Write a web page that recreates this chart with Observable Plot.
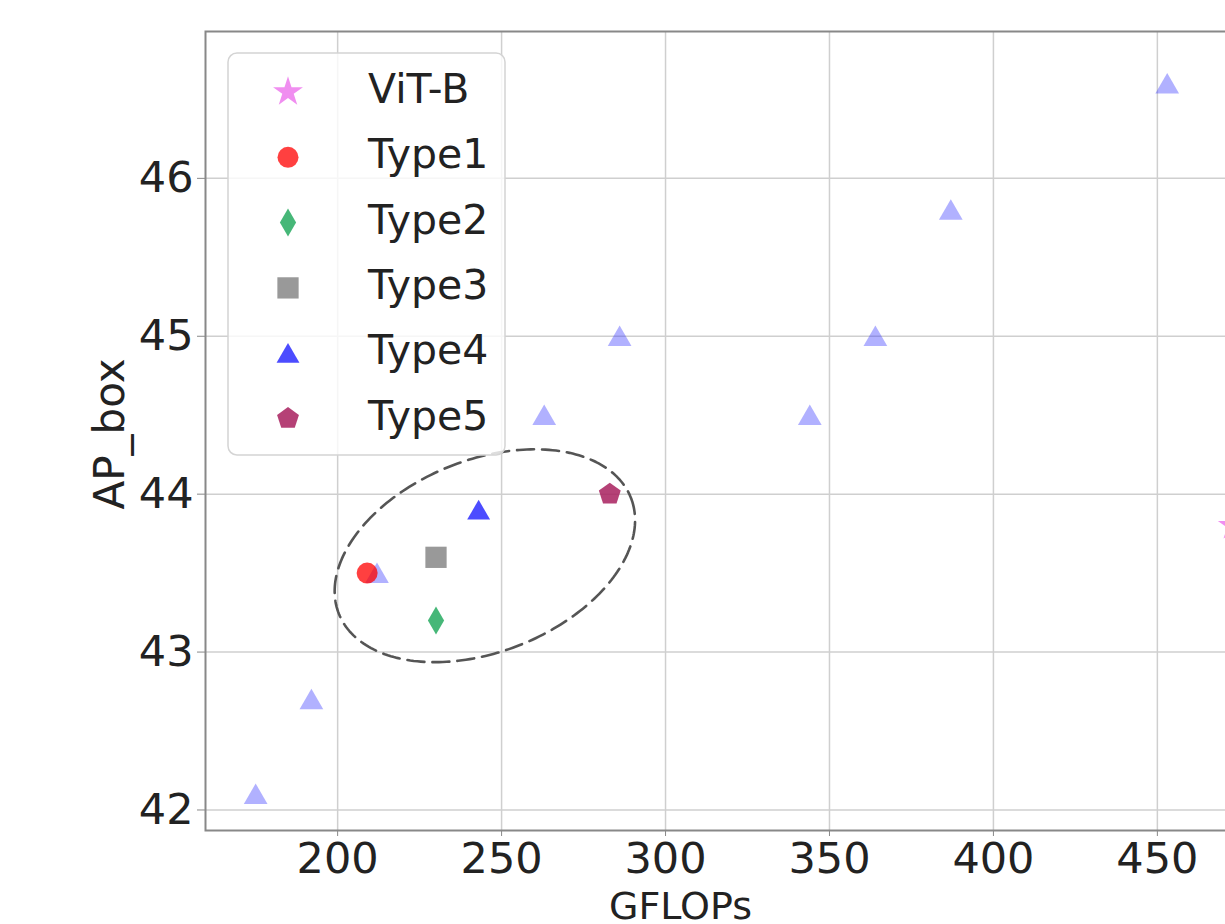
<!DOCTYPE html>
<html>
<head>
<meta charset="utf-8">
<script src="https://cdn.jsdelivr.net/npm/d3@7"></script>
<script src="https://cdn.jsdelivr.net/npm/@observablehq/plot@0.6"></script>
<style>
  html, body { margin: 0; padding: 0; background: #fff; overflow: hidden; width: 1225px; height: 924px; }
  #wrap { position: relative; width: 1225px; height: 924px; overflow: hidden; }
  #wrap > svg { display: block; max-width: none !important; height: 924px !important; }
  #legend { position: absolute; left: 0; top: 0; }
</style>
</head>
<body>
<div id="wrap"></div>
<script>
// ---- data ----
const xTicks = [200, 250, 300, 350, 400, 450, 500];
const yTicks = [42, 43, 44, 45, 46];

const seriesNames = ["ViT-B", "Type1", "Type2", "Type3", "Type4", "Type5"];
const seriesColors = ["#ee82ee", "#ff2020", "#3cb371", "#909090", "#3030f0", "#a8205e"];

// faded Type4 sweep
const type4FadedX = [175, 192, 212, 263, 286, 344, 364, 387, 453];
const type4FadedY = [42.1, 42.7, 43.5, 44.5, 45.0, 44.5, 45.0, 45.8, 46.6];

const vitX = [473];  const vitY = [43.8];
const type1X = [209]; const type1Y = [43.5];
const type2X = [230]; const type2Y = [43.2];
const type3X = [230]; const type3Y = [43.6];
const type4X = [243]; const type4Y = [43.9];
const type5X = [283]; const type5Y = [44.0];

// dashed ellipse annotation (center and conjugate half-axes, data units)
const ellipseCenter = [244.9, 43.61];
const ellipseU = [44.5, 0.369];
const ellipseV = [10.88, -0.564];

// ---- helpers ----
const pts = (xs, ys) => xs.map((x, i) => ({x, y: ys[i]}));
const pentagon = {
  draw(ctx, size) {
    const R = Math.sqrt(size / 2.3776);
    for (let i = 0; i < 5; i++) {
      const a = -Math.PI / 2 + i * 2 * Math.PI / 5;
      const px = R * Math.cos(a), py = R * Math.sin(a);
      if (i === 0) ctx.moveTo(px, py); else ctx.lineTo(px, py);
    }
    ctx.closePath();
  }
};
const ellipsePts = d3.range(0, 241).map(i => {
  const t = i / 240 * 2 * Math.PI;
  return {
    x: ellipseCenter[0] + ellipseU[0] * Math.cos(t) + ellipseV[0] * Math.sin(t),
    y: ellipseCenter[1] + ellipseU[1] * Math.cos(t) + ellipseV[1] * Math.sin(t)
  };
});

const FONT = "DejaVu Sans";

const chart = Plot.plot({
  width: 1400,
  height: 924,
  marginLeft: 205,
  marginTop: 31,
  marginBottom: 94,
  marginRight: 30,
  style: {fontFamily: FONT, background: "#fff", color: "#222", maxWidth: "none"},
  x: {domain: [159.7, 515]},
  y: {domain: [41.87, 46.93]},
  marks: [
    Plot.gridX(xTicks, {stroke: "#cfcfcf", strokeOpacity: 1, strokeWidth: 1.5}),
    Plot.gridY(yTicks, {stroke: "#cfcfcf", strokeOpacity: 1, strokeWidth: 1.5}),
    Plot.axisX(xTicks, {tickSize: 6, tickPadding: 6, fontSize: 43, stroke: "#888", color: "#222", label: null, tickFormat: d => String(d)}),
    Plot.axisY(yTicks, {tickSize: 8, tickPadding: 4, fontSize: 43, stroke: "#888", color: "#222", label: null, tickFormat: d => String(d)}),
    Plot.line(ellipsePts, {x: "x", y: "y", stroke: "#555", strokeWidth: 2.6, strokeDasharray: "17 8"}),
    Plot.dot(pts(type4FadedX, type4FadedY), {x: "x", y: "y", symbol: "triangle", r: 8.8, dy: 3, fill: "#3333ff", fillOpacity: 0.38}),
    Plot.dot(pts(vitX, vitY), {x: "x", y: "y", symbol: "star", r: 9.4, fill: seriesColors[0], fillOpacity: 0.9}),
    Plot.dot(pts(type1X, type1Y), {x: "x", y: "y", symbol: "circle", r: 10.5, fill: "red", fillOpacity: 0.75}),
    Plot.dot(pts(type2X, type2Y), {x: "x", y: "y", symbol: "diamond", r: 8.5, fill: seriesColors[2], fillOpacity: 0.95}),
    Plot.dot(pts(type3X, type3Y), {x: "x", y: "y", symbol: "square", r: 12, fill: "#808080", fillOpacity: 0.8}),
    Plot.dot(pts(type4X, type4Y), {x: "x", y: "y", symbol: "triangle", r: 8.5, dy: 3, fill: "blue", fillOpacity: 0.7}),
    Plot.dot(pts(type5X, type5Y), {x: "x", y: "y", symbol: pentagon, r: 10, fill: seriesColors[5], fillOpacity: 0.85}),
    Plot.frame({stroke: "#888", strokeWidth: 2}),
    Plot.text(["GFLOPs"], {frameAnchor: "bottom-left", dx: 475, dy: 76, fontSize: 38, textAnchor: "middle", lineAnchor: "middle", fill: "#222"}),
    Plot.text(["AP_box"], {frameAnchor: "left", dx: -95, dy: 3, fontSize: 42, rotate: -90, textAnchor: "middle", lineAnchor: "middle", fill: "#222"})
  ]
});
chart.style.maxWidth = "none";

const wrap = document.getElementById("wrap");
wrap.appendChild(chart);

// ---- legend overlay (inside the plot frame, top-left) ----
const symbols = [d3.symbolStar, d3.symbolCircle, d3.symbolDiamond, d3.symbolSquare, d3.symbolTriangle, pentagon];
const symSizes = [9.4, 10.5, 8.5, 12, 8.5, 10].map(r => Math.PI * r * r);
const symFills = [seriesColors[0], "red", seriesColors[2], "#808080", "blue", seriesColors[5]];
const symOpac = [0.9, 0.75, 0.95, 0.8, 0.7, 0.85];
const symDy = [0, 0, 0, 0, 3, 0];

const lg = d3.create("svg").attr("id", "legend").attr("width", 1225).attr("height", 924)
  .style("font-family", FONT);
lg.append("rect").attr("x", 228).attr("y", 53).attr("width", 277).attr("height", 402)
  .attr("rx", 9).attr("fill", "#fff").attr("fill-opacity", 0.8)
  .attr("stroke", "#d4d4d4").attr("stroke-width", 1.5);
seriesNames.forEach((name, i) => {
  const cy = 92 + i * 65.3;
  lg.append("path")
    .attr("d", d3.symbol(symbols[i], symSizes[i])())
    .attr("transform", `translate(288,${cy + symDy[i]})`)
    .attr("fill", symFills[i]).attr("fill-opacity", symOpac[i]);
  lg.append("text").attr("x", 368).attr("y", cy + 11)
    .attr("font-size", 41).attr("fill", "#222").text(name);
});
wrap.appendChild(lg.node());
</script>
</body>
</html>
